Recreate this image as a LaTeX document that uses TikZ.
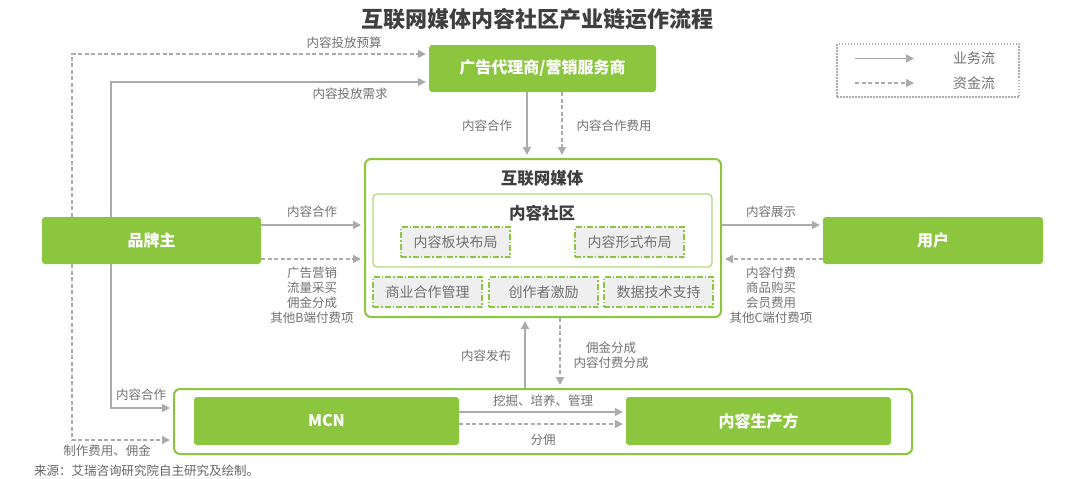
\documentclass[tikz,border=0pt]{standalone}
\usepackage{fontspec}
\setmainfont{Noto Sans CJK SC}
\usetikzlibrary{arrows.meta}
\definecolor{gr}{HTML}{8CC63F}
\definecolor{grl}{HTML}{B3D97A}
\definecolor{ln}{HTML}{ABABAB}
\definecolor{lbc}{HTML}{717171}
\definecolor{dk}{HTML}{3F3F3F}
\definecolor{sbf}{HTML}{EFEFEF}
\tikzset{
  gbox/.style={fill=gr, draw=none, rounded corners=3pt, text=white, inner sep=0pt,
    font=\bfseries\fontsize{16}{18}\selectfont},
  frame/.style={draw=gr, line width=2pt, rounded corners=6pt, fill=white, inner sep=0pt},
  commbox/.style={draw=grl, line width=1.3pt, rounded corners=4pt, fill=white, inner sep=0pt},
  subbox/.style={fill=sbf, draw=gr, line width=1.2pt, dash pattern=on 6pt off 2pt on 1.5pt off 2pt,
    text=lbc, inner sep=0pt, minimum width=109pt, minimum height=30pt, font=\fontsize{14}{16}\selectfont},
  flow/.style={draw=ln, line width=1.6pt, -{Triangle[length=8pt,width=8pt]}, shorten >=3pt},
  money/.style={flow, dash pattern=on 4pt off 2.5pt},
  lbl/.style={text=lbc, inner sep=0pt, align=center, font=\fontsize{12.5}{15}\selectfont},
  hd/.style={text=dk, inner sep=0pt, font=\bfseries\fontsize{16.5}{18}\selectfont},
}
\begin{document}
\begin{tikzpicture}[x=1pt,y=-1pt]
\useasboundingbox (0,0) rectangle (1080,479);
% title
\node[text=dk, inner sep=0pt, font=\bfseries\fontsize{22}{24}\selectfont] (title) at (537,19) {互联网媒体内容社区产业链运作流程};
% legend
\node[draw=ln, line width=1.5pt, dash pattern=on 1.5pt off 1.5pt, minimum width=182pt, minimum height=53pt, inner sep=0pt] (legend) at (928,70.5) {};
\coordinate (lg1a) at (855,58.5);
\coordinate (lg1b) at (917,58.5);
\coordinate (lg2a) at (855,83);
\coordinate (lg2b) at (917,83);
\draw[flow] (lg1a) -- (lg1b);
\draw[money] (lg2a) -- (lg2b);
\node[lbl, font=\fontsize{14}{16}\selectfont] (lgt1) at (974,58.5) {业务流};
\node[lbl, font=\fontsize{14}{16}\selectfont] (lgt2) at (974,83) {资金流};
% main boxes
\node[gbox, minimum width=227pt, minimum height=47pt] (ad) at (542.5,68.5) {广告代理商/营销服务商};
\node[gbox, minimum width=219pt, minimum height=47pt] (brand) at (151.5,240.5) {品牌主};
\node[gbox, minimum width=220pt, minimum height=47pt] (user) at (933,240.5) {用户};
\node[frame, minimum width=356pt, minimum height=158pt] (media) at (543,238) {};
\node[hd] (mediat) at (542,178) {互联网媒体};
\node[commbox, minimum width=339pt, minimum height=73pt] (comm) at (542.5,230.5) {};
\node[hd] (commt) at (542,213) {内容社区};
\node[subbox] (b1) at (455.5,242) {内容板块布局};
\node[subbox] (b2) at (629.5,242) {内容形式布局};
\node[subbox] (c1) at (427.5,292) {商业合作管理};
\node[subbox] (c2) at (543.5,292) {创作者激励};
\node[subbox] (c3) at (658.5,292) {数据技术支持};
\node[frame, minimum width=738pt, minimum height=65pt] (bottom) at (543,421.5) {};
\node[gbox, minimum width=265pt, minimum height=48pt] (mcn) at (326.5,421) {MCN};
\node[gbox, minimum width=265pt, minimum height=48pt] (prod) at (758.5,421) {内容生产方};
% connectors brand -> ad / bottom
\draw[money] (brand.north -| 72,0) |- (ad.west |- 0,54);
\draw[flow] (brand.north -| 111,0) |- (ad.west |- 0,82);
\draw[money] (brand.south -| 72,0) |- (bottom.west |- 0,440);
\draw[flow] (brand.south -| 111,0) |- (bottom.west |- 0,408);
% ad -> media
\draw[flow] (ad.south -| 527,0) -- (media.north -| 527,0);
\draw[money] (ad.south -| 562,0) -- (media.north -| 562,0);
% brand <-> media
\draw[flow] (brand.east |- 0,225) -- (media.west |- 0,225);
\draw[money] (brand.east |- 0,259) -- (media.west |- 0,259);
% media <-> user
\draw[flow] (media.east |- 0,225) -- (user.west |- 0,225);
\draw[money] (user.west |- 0,259) -- (media.east |- 0,259);
% bottom <-> media
\draw[flow] (bottom.north -| 525,0) -- (media.south -| 525,0);
\draw[money] (media.south -| 560,0) -- (bottom.north -| 560,0);
% mcn -> producer
\draw[flow] (mcn.east |- 0,412) -- (prod.west |- 0,412);
\draw[money] (mcn.east |- 0,424) -- (prod.west |- 0,424);
% labels
\node[lbl] (l1) at (344,43) {内容投放预算};
\node[lbl] (l2) at (350,94) {内容投放需求};
\node[lbl] (l3) at (487,126) {内容合作};
\node[lbl] (l4) at (614,126) {内容合作费用};
\node[lbl] (l5) at (312,212) {内容合作};
\node[lbl] (l6) at (312,295.5) {广告营销\\流量采买\\佣金分成\\其他B端付费项};
\node[lbl] (l7) at (771,212) {内容展示};
\node[lbl] (l8) at (771,295.5) {内容付费\\商品购买\\会员费用\\其他C端付费项};
\node[lbl] (l9) at (486,356) {内容发布};
\node[lbl] (l10) at (611,355.5) {佣金分成\\内容付费分成};
\node[lbl] (l11) at (141,395) {内容合作};
\node[lbl] (l12) at (107,451) {制作费用、佣金};
\node[lbl] (l13) at (543,401) {挖掘、培养、管理};
\node[lbl] (l14) at (543,440) {分佣};
\node[lbl, anchor=west, text=dk!80] (src) at (34,471) {来源：艾瑞咨询研究院自主研究及绘制。};
\end{tikzpicture}
\end{document}
